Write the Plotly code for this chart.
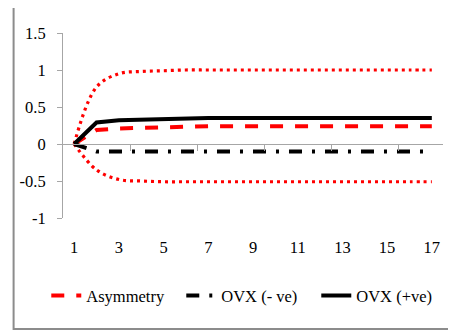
import plotly.graph_objects as go

periods = list(range(1, 18))
asymmetry = [0, 0.19, 0.21, 0.22, 0.23, 0.24, 0.24, 0.24, 0.24, 0.24, 0.24, 0.24, 0.24, 0.24, 0.24, 0.24, 0.24]
upper_band = [0, 0.77, 0.95, 0.98, 0.99, 1.0, 1.0, 1.0, 1.0, 1.0, 1.0, 1.0, 1.0, 1.0, 1.0, 1.0, 1.0]
lower_band = [0, -0.35, -0.48, -0.5, -0.51, -0.51, -0.51, -0.51, -0.51, -0.51, -0.51, -0.51, -0.51, -0.51, -0.51, -0.51, -0.51]
ovx_neg = [0, -0.1, -0.1, -0.1, -0.1, -0.1, -0.1, -0.1, -0.1, -0.1, -0.1, -0.1, -0.1, -0.1, -0.1, -0.1, -0.1]
ovx_pos = [0, 0.29, 0.32, 0.33, 0.34, 0.34, 0.35, 0.35, 0.35, 0.35, 0.35, 0.35, 0.35, 0.35, 0.35, 0.35, 0.35]
x_tick_labels = ["1", "3", "5", "7", "9", "11", "13", "15", "17"]
x_tick_vals = [1, 3, 5, 7, 9, 11, 13, 15, 17]
y_tick_vals = [-1, -0.5, 0, 0.5, 1, 1.5]
y_tick_labels = ["-1", "-0.5", "0", "0.5", "1", "1.5"]

FONT = "Times New Roman, Liberation Serif, DejaVu Serif, serif"
AX = "#a6a6a6"

fig = go.Figure()
fig.add_trace(go.Scatter(x=periods, y=upper_band, mode="lines", showlegend=False,
                         line=dict(color="#ff0000", width=3.2, dash="3px,4px", shape="spline")))
fig.add_trace(go.Scatter(x=periods, y=lower_band, mode="lines", showlegend=False,
                         line=dict(color="#ff0000", width=3.2, dash="3px,4px", shape="spline")))
fig.add_trace(go.Scatter(x=periods, y=asymmetry, mode="lines", name="Asymmetry",
                         line=dict(color="#ff0000", width=4, dash="13px,12px")))
fig.add_trace(go.Scatter(x=periods, y=ovx_neg, mode="lines", name="OVX (- ve)",
                         line=dict(color="#000000", width=4, dash="13px,10px,3px,10px")))
fig.add_trace(go.Scatter(x=periods, y=ovx_pos, mode="lines", name="OVX (+ve)",
                         line=dict(color="#000000", width=4)))

# invisible trace to bind the overlay x-axis (category boundary ticks at y=0)
fig.add_trace(go.Scatter(x=[periods[0], periods[-1]], y=[0, 0], xaxis="x2", mode="lines",
                         line=dict(width=0), showlegend=False, hoverinfo="skip"))

fig.update_layout(
    width=456, height=332,
    margin=dict(l=51, r=21, t=25, b=122),
    paper_bgcolor="white", plot_bgcolor="white",
    font=dict(family=FONT, size=16.5, color="#000000"),
    xaxis=dict(range=[0.5, 17.5], tickvals=x_tick_vals, ticktext=x_tick_labels,
               showgrid=False, zeroline=False, showline=False, ticks="",
               ticklabelstandoff=17, tickfont=dict(family=FONT, size=16.5)),
    xaxis2=dict(range=[0.5, 17.5], overlaying="x", anchor="free", position=0.4,
                side="bottom", tickvals=[3.5, 6.5, 9.5, 12.5, 15.5], showticklabels=False,
                ticks="outside", ticklen=6, tickcolor=AX, tickwidth=1,
                showline=True, linecolor=AX, linewidth=1, showgrid=False, zeroline=False),
    yaxis=dict(range=[-1, 1.5], tickvals=y_tick_vals, ticktext=y_tick_labels,
               showgrid=False, zeroline=False, showline=True, linecolor=AX, linewidth=1,
               ticks="outside", ticklen=5, tickcolor=AX, ticklabelstandoff=8,
               tickfont=dict(family=FONT, size=16.5)),
    legend=dict(orientation="h", x=-0.044, xanchor="left", y=-0.42, yanchor="middle",
                font=dict(family=FONT, size=16.5), bgcolor="rgba(0,0,0,0)",
                entrywidth=90, entrywidthmode="pixels", tracegroupgap=0),
    shapes=[dict(type="rect", xref="paper", yref="paper", x0=-0.130, x1=1.06, y0=-0.6, y1=1.146,
                 line=dict(color="#8c8c8c", width=2), fillcolor="rgba(0,0,0,0)", layer="below")],
)

fig.write_html("out.html")
